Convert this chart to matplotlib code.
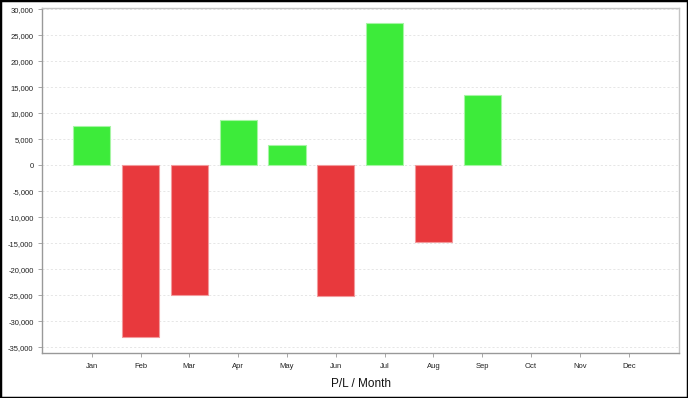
import matplotlib
matplotlib.use("Agg")
import matplotlib.pyplot as plt
from matplotlib.patches import Rectangle
from matplotlib.ticker import FuncFormatter

months = ["Jan", "Feb", "Mar", "Apr", "May", "Jun",
          "Jul", "Aug", "Sep", "Oct", "Nov", "Dec"]
pl_values = [7550, -33000, -25000, 8700, 3800, -25200,
             27300, -14700, 13500, 0, 0, 0]
y_ticks = list(range(-35000, 30001, 5000))

GREEN = "#3deb3a"
RED = "#e8393d"

plt.rcParams["font.family"] = ["Liberation Sans", "DejaVu Sans"]

fig = plt.figure(figsize=(6.88, 3.98), dpi=100)
ax = fig.add_axes([0.061, 0.113, 0.926, 0.868])

x = range(len(months))
colors = [GREEN if v >= 0 else RED for v in pl_values]
edges = ["#a6f5a4" if v >= 0 else "#f29a9c" for v in pl_values]
# empty months (Oct-Dec) have no bar
shown = [i for i, v in enumerate(pl_values) if v != 0]
ax.bar(shown,
       [pl_values[i] for i in shown],
       width=0.76,
       color=[colors[i] for i in shown],
       edgecolor=[edges[i] for i in shown],
       linewidth=0.8, zorder=3)

ax.set_xlim(-1.02, 12.03)
ax.set_ylim(-36150, 30350)
ax.set_xticks(list(x))
ax.set_xticklabels(months)
ax.set_yticks(y_ticks)
ax.yaxis.set_major_formatter(FuncFormatter(lambda v, p: f"{int(v):,}"))
ax.tick_params(labelsize=5.5, length=3, width=0.6, color="#999999",
               labelcolor="#222222", pad=3)
ax.tick_params(axis="x", pad=4)

ax.grid(axis="y", color="#e2e2e2", linestyle=(0, (2.5, 2.5)), linewidth=0.6, zorder=0)
ax.set_axisbelow(True)

for side in ("left", "bottom"):
    ax.spines[side].set_color("#999999")
    ax.spines[side].set_linewidth(1.0)
for side in ("top", "right"):
    ax.spines[side].set_color("#c4c4c4")
    ax.spines[side].set_linewidth(1.0)

ax.set_xlabel("P/L / Month", fontsize=8.5, color="#111111", labelpad=6)

# black frame round the whole image
fig.patches.append(Rectangle((0, 0), 1, 1, transform=fig.transFigure,
                             fill=False, edgecolor="black", linewidth=2.5))

fig.savefig("out.png", dpi=100)
